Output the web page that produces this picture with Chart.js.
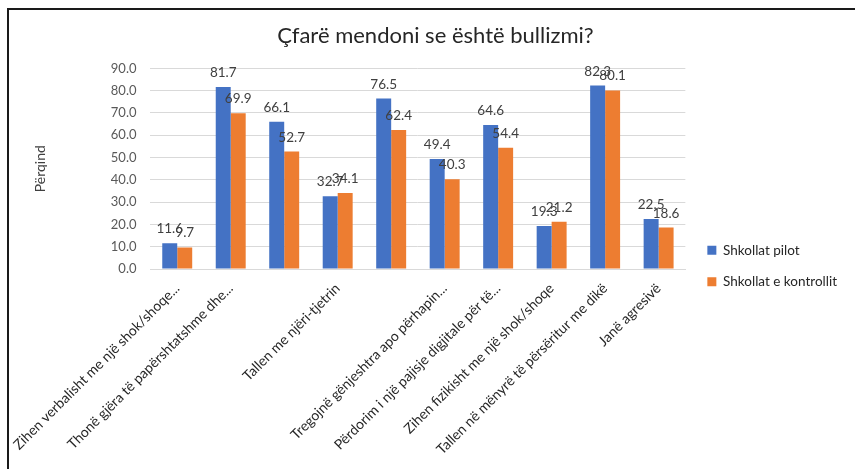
<!DOCTYPE html>
<html>
<head>
<meta charset="utf-8">
<script src="https://cdn.jsdelivr.net/npm/chart.js@4"></script>
<style>
  body { margin: 0; background: #fff; }
  #wrap { position: relative; width: 855px; height: 469px; overflow: hidden; }
  #frame { position: absolute; left: 7px; top: 8px; width: 900px; height: 500px;
           border-top: 2px solid #1a1a1a; border-left: 2px solid #1a1a1a; }
  canvas { position: absolute; left: 0; top: 0; }
</style>
</head>
<body>
<div id="wrap">
  <div id="frame"></div>
  <canvas id="myChart" width="855" height="469"></canvas>
</div>
<script>
// 10 category slots; two of them carry no visible label in the picture
const categories = [
  "Zihen verbalisht me një shok/shoqe...",
  "Thonë gjëra të papërshtatshme dhe...",
  "",
  "Tallen me njëri-tjetrin",
  "",
  "Tregojnë gënjeshtra apo përhapin...",
  "Përdorim i një pajisje digjitale për të...",
  "Zihen fizikisht me një shok/shoqe",
  "Tallen në mënyrë të përsëritur me dikë",
  "Janë agresivë"
];
const pilotValues = [11.6, 81.7, 66.1, 32.7, 76.5, 49.4, 64.6, 19.3, 82.3, 22.5];
const kontrollValues = [9.7, 69.9, 52.7, 34.1, 62.4, 40.3, 54.4, 21.2, 80.1, 18.6];
const seriesNames = ["Shkollat pilot", "Shkollat e kontrollit"];
const chartTitle = "Çfarë mendoni se është bullizmi?";
const yTitle = "Përqind";

const FONT = "Lato, 'Open Sans', sans-serif";

// labels above each bar, like the Excel data labels
const valueLabels = {
  id: "valueLabels",
  afterDatasetsDraw(chart) {
    const c = chart.ctx;
    c.save();
    c.font = "13.5px " + FONT;
    c.fillStyle = "#404040";
    c.textAlign = "center";
    c.textBaseline = "alphabetic";
    chart.data.datasets.forEach(function (ds, i) {
      chart.getDatasetMeta(i).data.forEach(function (bar, j) {
        c.fillText(ds.data[j].toFixed(1), bar.x, bar.y - 10);
      });
    });
    c.restore();
  },
};

// move the legend block to where Excel puts it
const legendShift = {
  id: "legendShift",
  afterLayout(chart) {
    const lg = chart.legend;
    lg.left += 4;
    lg.right += 4;
    lg.top += 31;
    lg.bottom += 31;
  },
};

const ctx = document.getElementById("myChart");

var chart = new Chart(ctx, {
  type: "bar",
  data: {
    labels: categories,
    datasets: [
      {
        label: seriesNames[0],
        data: pilotValues,
        backgroundColor: "#4472C4",
        categoryPercentage: 0.56,
        barPercentage: 1,
      },
      {
        label: seriesNames[1],
        data: kontrollValues,
        backgroundColor: "#ED7D31",
        categoryPercentage: 0.56,
        barPercentage: 1,
      },
    ],
  },
  options: {
    responsive: false,
    animation: false,
    layout: {
      padding: { top: 9, left: 28, right: 12, bottom: 8 },
    },
    plugins: {
      title: {
        display: true,
        text: chartTitle,
        color: "#262626",
        font: { family: FONT, size: 22, weight: "normal" },
        padding: { top: 14, bottom: 19 },
      },
      legend: {
        position: "right",
        labels: {
          boxWidth: 9,
          boxHeight: 9,
          padding: 18,
          color: "#262626",
          font: { family: FONT, size: 13.5 },
        },
      },
      tooltip: { enabled: false },
    },
    scales: {
      x: {
        grid: { display: false },
        border: { color: "#d9d9d9", width: 1 },
        ticks: {
          autoSkip: false,
          maxRotation: 45,
          minRotation: 45,
          color: "#262626",
          font: { family: FONT, size: 14 },
        },
      },
      y: {
        min: 0,
        max: 90,
        beginAtZero: true,
        border: { display: false },
        grid: { color: "#d9d9d9", drawTicks: false },
        ticks: {
          stepSize: 10,
          padding: 14,
          color: "#595959",
          font: { family: FONT, size: 13 },
          callback: function (v) { return v.toFixed(1); },
        },
        title: {
          display: true,
          text: yTitle,
          color: "#404040",
          font: { family: FONT, size: 14 },
          padding: { top: 4, bottom: 48 },
        },
      },
    },
  },
  plugins: [valueLabels, legendShift],
});
</script>
</body>
</html>
